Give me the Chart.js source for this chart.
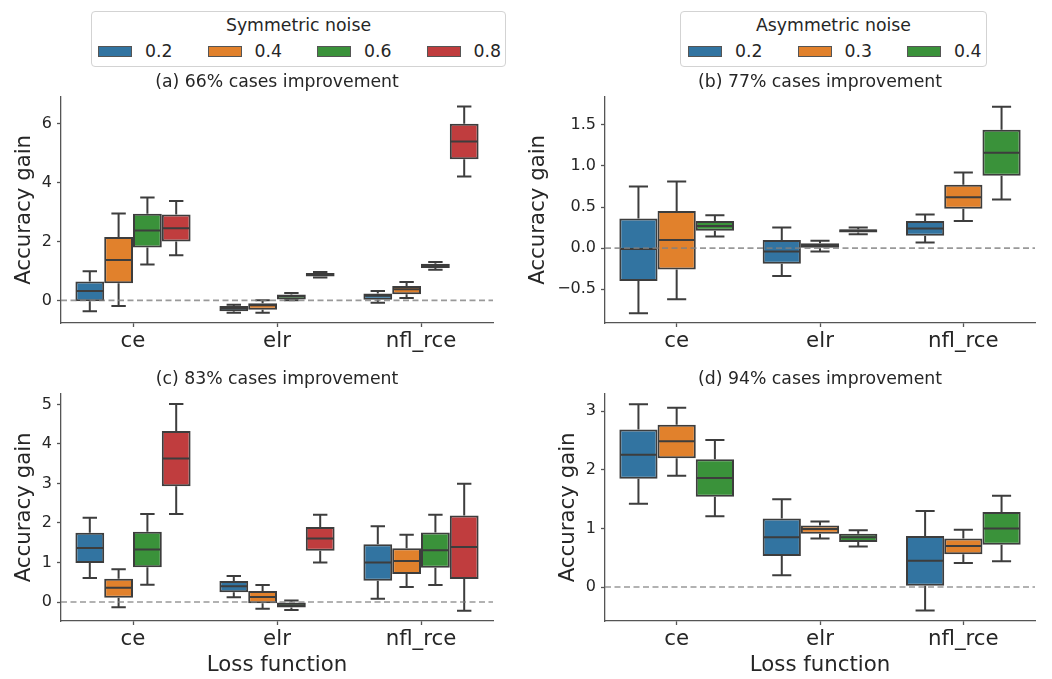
<!DOCTYPE html>
<html>
<head>
<meta charset="utf-8">
<script src="https://cdn.jsdelivr.net/npm/chart.js@4/dist/chart.umd.min.js"></script>
<style>
  body { margin: 0; width: 1052px; height: 679px; position: relative; background: #fff; overflow: hidden;
         font-family: "DejaVu Sans", sans-serif; color: #262626; }
  canvas { position: absolute; }
  .legend { position: absolute; border: 1px solid #d3d3d3; border-radius: 4px; box-sizing: border-box; background: #fff; }
  .legend .ttl { position: absolute; left: 0; right: 0; top: 3px; text-align: center; font-size: 17.3px; line-height: 20px; }
  .legend .items { position: absolute; top: 30px; display: flex; }
  .legend .item { display: flex; align-items: center; width: 109.5px; font-size: 17.3px; line-height: 18px; }
  .legend .patch { width: 34px; height: 11px; border: 1px solid #555; box-sizing: border-box; margin-right: 13px; }
</style>
</head>
<body>
<div class="legend" id="legSym" style="left:91px;top:11px;width:415px;height:56px;"></div>
<div class="legend" id="legAsym" style="left:680px;top:11px;width:307px;height:56px;"></div>
<canvas id="chA" width="500" height="292" style="left:0;top:64px;"></canvas>
<canvas id="chB" width="523" height="292" style="left:520px;top:64px;"></canvas>
<canvas id="chC" width="500" height="318" style="left:0;top:361px;"></canvas>
<canvas id="chD" width="523" height="318" style="left:520px;top:361px;"></canvas>
<script>
// categories and noise levels
const lossFunctions = ['ce', 'elr', 'nfl_rce'];
const symLevels = ['0.2', '0.4', '0.6', '0.8'];
const asymLevels = ['0.2', '0.3', '0.4'];

// box stats per level -> per loss function: [min, q1, median, q3, max]
const statsA = [
  [[-0.37, -0.03, 0.32, 0.64, 0.99], [-0.42, -0.37, -0.28, -0.19, -0.15], [-0.08, 0.02, 0.16, 0.23, 0.32]],
  [[-0.19, 0.58, 1.37, 2.15, 2.95], [-0.42, -0.32, -0.17, -0.10, 0.0], [0.08, 0.21, 0.38, 0.49, 0.62]],
  [[1.22, 1.80, 2.37, 2.94, 3.50], [0.0, 0.03, 0.14, 0.20, 0.25], [1.04, 1.10, 1.18, 1.24, 1.30]],
  [[1.53, 2.00, 2.45, 2.92, 3.38], [0.78, 0.81, 0.88, 0.93, 0.96], [4.21, 4.80, 5.40, 6.00, 6.59]]
];
const statsB = [
  [[-0.79, -0.40, -0.01, 0.36, 0.75], [-0.34, -0.19, -0.04, 0.10, 0.25], [0.07, 0.15, 0.24, 0.33, 0.41]],
  [[-0.62, -0.26, 0.10, 0.45, 0.81], [-0.04, 0.0, 0.03, 0.06, 0.09], [0.33, 0.48, 0.62, 0.77, 0.92]],
  [[0.14, 0.21, 0.27, 0.33, 0.40], [0.17, 0.19, 0.21, 0.23, 0.25], [0.59, 0.88, 1.16, 1.44, 1.72]]
];
const statsC = [
  [[0.61, 0.99, 1.37, 1.75, 2.13], [0.12, 0.25, 0.40, 0.53, 0.66], [0.08, 0.54, 1.00, 1.46, 1.92]],
  [[-0.13, 0.11, 0.36, 0.59, 0.83], [-0.17, -0.03, 0.13, 0.28, 0.43], [0.38, 0.71, 1.04, 1.36, 1.70]],
  [[0.44, 0.88, 1.33, 1.78, 2.23], [-0.20, -0.14, -0.08, 0.0, 0.04], [0.43, 0.87, 1.31, 1.76, 2.21]],
  [[2.23, 2.93, 3.63, 4.33, 5.01], [1.00, 1.30, 1.61, 1.90, 2.21], [-0.22, 0.58, 1.39, 2.19, 2.99]]
];
const statsD = [
  [[1.42, 1.85, 2.26, 2.69, 3.12], [0.20, 0.53, 0.85, 1.17, 1.50], [-0.40, 0.02, 0.45, 0.87, 1.30]],
  [[1.90, 2.20, 2.49, 2.77, 3.06], [0.83, 0.91, 0.99, 1.05, 1.12], [0.41, 0.56, 0.70, 0.83, 0.98]],
  [[1.21, 1.54, 1.86, 2.18, 2.51], [0.69, 0.77, 0.85, 0.91, 0.97], [0.44, 0.72, 1.00, 1.28, 1.56]]
];

const panelTitles = ['(a) 66% cases improvement', '(b) 77% cases improvement',
                     '(c) 83% cases improvement', '(d) 94% cases improvement'];

const palette = ['#3274a1', '#e1812c', '#3a923a', '#c03d3e'];
const lineGray = '#3d3d3d';
const axisGray = '#555555';
const textCol = '#262626';
const FONT = '"DejaVu Sans", sans-serif';

// html legends
function buildLegend(id, title, levels) {
  const el = document.getElementById(id);
  let html = `<div class="ttl">${title}</div><div class="items" style="left:${id === 'legSym' ? 6 : 7}px">`;
  levels.forEach((lv, i) => {
    html += `<div class="item"><span class="patch" style="background:${palette[i]}"></span>${lv}</div>`;
  });
  el.innerHTML = html + '</div>';
}
buildLegend('legSym', 'Symmetric noise', symLevels);
buildLegend('legAsym', 'Asymmetric noise', asymLevels);

// whiskers, medians and the dashed zero line
const boxWhiskers = {
  id: 'boxWhiskers',
  afterDatasetsDraw(chart) {
    const { ctx, chartArea, scales: { y } } = chart;
    ctx.save();
    ctx.strokeStyle = lineGray;
    ctx.lineWidth = 2;
    chart.data.datasets.forEach((ds, i) => {
      chart.getDatasetMeta(i).data.forEach((bar, j) => {
        const [lo, q1, med, q3, hi] = ds.stats[j].map(v => y.getPixelForValue(v));
        const x = bar.x, hw = bar.width / 2 - 1, cw = bar.width / 4;
        ctx.beginPath();
        ctx.moveTo(x, q3); ctx.lineTo(x, hi);
        ctx.moveTo(x, q1); ctx.lineTo(x, lo);
        ctx.moveTo(x - cw, hi); ctx.lineTo(x + cw, hi);
        ctx.moveTo(x - cw, lo); ctx.lineTo(x + cw, lo);
        ctx.moveTo(x - hw, med); ctx.lineTo(x + hw, med);
        ctx.stroke();
      });
    });
    const y0 = y.getPixelForValue(0);
    ctx.setLineDash([6, 3.5]);
    ctx.strokeStyle = 'rgba(128,128,128,0.8)';
    ctx.lineWidth = 1.6;
    ctx.beginPath();
    ctx.moveTo(chartArea.left, y0);
    ctx.lineTo(chartArea.right, y0);
    ctx.stroke();
    ctx.restore();
  }
};

function makeChart(id, title, levels, stats, o) {
  return new Chart(document.getElementById(id), {
    type: 'bar',
    data: {
      labels: lossFunctions,
      datasets: levels.map((lv, i) => ({
        label: lv,
        data: stats[i].map(s => [s[1], s[3]]),
        stats: stats[i],
        backgroundColor: palette[i],
        borderColor: lineGray,
        borderWidth: 2,
        borderSkipped: false,
        categoryPercentage: 0.8,
        barPercentage: 1.0
      }))
    },
    options: {
      responsive: false,
      animation: false,
      layout: { padding: { left: 0, right: o.padRight, top: 0, bottom: 0 } },
      plugins: {
        legend: { display: false },
        tooltip: { enabled: false },
        title: {
          display: true, text: title, color: textCol, fullSize: false,
          font: { family: FONT, size: 17.3, weight: 'normal' },
          padding: { top: 8, bottom: 4 }
        }
      },
      scales: {
        x: {
          offset: true,
          grid: { offset: false, drawOnChartArea: false, drawTicks: true, tickLength: 4, tickColor: axisGray, tickWidth: 1.3 },
          border: { color: axisGray, width: 1.3 },
          ticks: { color: textCol, padding: 2, font: { family: FONT, size: 21.3 } },
          title: {
            display: o.xTitle, text: 'Loss function', color: textCol,
            font: { family: FONT, size: 21.3 }, padding: { top: 0, bottom: 1 }
          },
          afterFit: s => { s.height = o.xHeight; }
        },
        y: {
          min: o.min, max: o.max,
          grid: { drawOnChartArea: false, drawTicks: true, tickLength: 4, tickColor: axisGray, tickWidth: 1.3 },
          border: { color: axisGray, width: 1.3 },
          ticks: {
            stepSize: o.step, includeBounds: false, color: textCol, padding: 5,
            font: { family: FONT, size: 16 },
            callback: v => (v < -1e-9 ? '\u2212' : '') + Math.abs(v).toFixed(o.dec)
          },
          title: {
            display: true, text: 'Accuracy gain', color: textCol,
            font: { family: FONT, size: 21.3 }, padding: { top: o.yTitlePad, bottom: 0 }
          },
          afterFit: s => { s.width = o.yWidth; }
        }
      }
    },
    plugins: [boxWhiskers]
  });
}

makeChart('chA', panelTitles[0], symLevels, statsA,
  { min: -0.77, max: 6.92, step: 2, dec: 0, yWidth: 61, yTitlePad: 12, padRight: 7, xHeight: 33, xTitle: false });
makeChart('chB', panelTitles[1], asymLevels, statsB,
  { min: -0.91, max: 1.84, step: 0.5, dec: 1, yWidth: 85, yTitlePad: 5.5, padRight: 8, xHeight: 33, xTitle: false });
makeChart('chC', panelTitles[2], symLevels, statsC,
  { min: -0.48, max: 5.27, step: 1, dec: 0, yWidth: 61, yTitlePad: 12, padRight: 7, xHeight: 58, xTitle: true });
makeChart('chD', panelTitles[3], asymLevels, statsD,
  { min: -0.58, max: 3.30, step: 1, dec: 0, yWidth: 85, yTitlePad: 35.5, padRight: 8, xHeight: 58, xTitle: true });
</script>
</body>
</html>
